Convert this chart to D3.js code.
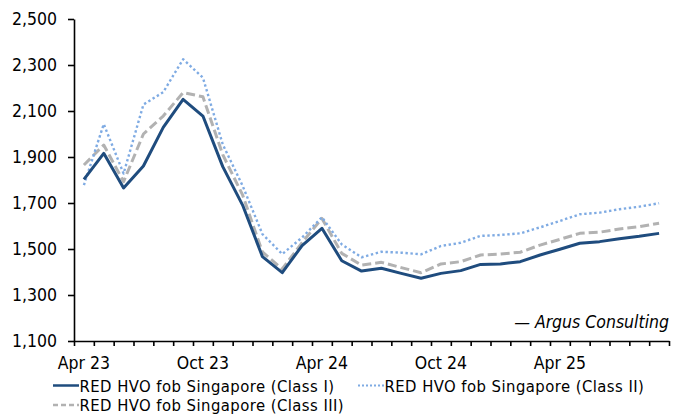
<!DOCTYPE html>
<html>
<head>
<meta charset="utf-8">
<script src="https://cdn.jsdelivr.net/npm/d3@7"></script>
<style>
  html, body { margin: 0; padding: 0; background: #fff; }
  svg { display: block; }
  text { font-family: "DejaVu Sans Condensed", "DejaVu Sans", sans-serif; fill: #000; }
</style>
</head>
<body>
<svg id="chart" width="684" height="415"></svg>
<script>
// Monthly categories, Apr 2023 – Sep 2025
const months = [
  "Apr 23","May 23","Jun 23","Jul 23","Aug 23","Sep 23","Oct 23","Nov 23","Dec 23",
  "Jan 24","Feb 24","Mar 24","Apr 24","May 24","Jun 24","Jul 24","Aug 24","Sep 24",
  "Oct 24","Nov 24","Dec 24","Jan 25","Feb 25","Mar 25","Apr 25","May 25","Jun 25",
  "Jul 25","Aug 25","Sep 25"
];

// RED HVO fob Singapore, $/t
const classI = [1803,1916,1765,1861,2029,2151,2078,1858,1691,1467,1397,1515,1590,1449,1404,
                1416,1394,1373,1394,1406,1433,1435,1445,1474,1499,1525,1532,1545,1555,1568];
const classII = [1778,2043,1828,2128,2182,2325,2245,1955,1775,1565,1478,1550,1638,1520,1464,
                 1488,1484,1477,1513,1527,1557,1561,1568,1594,1622,1651,1658,1673,1684,1699];
const classIII = [1865,1952,1793,2000,2078,2180,2162,1910,1735,1487,1413,1528,1633,1481,1430,
                  1442,1419,1397,1435,1445,1474,1478,1486,1517,1542,1568,1573,1587,1597,1612];

const xTickLabels = ["Apr 23","Oct 23","Apr 24","Oct 24","Apr 25"];
const yTicks = [1100,1300,1500,1700,1900,2100,2300,2500];

const seriesNames = [
  "RED HVO fob Singapore (Class I)",
  "RED HVO fob Singapore (Class II)",
  "RED HVO fob Singapore (Class III)"
];

const FONT = 17.5;
const LEGEND_FONT = 16.5;
const svg = d3.select("#chart");

const plotLeft = 74, plotRight = 669, plotTop = 19, plotBottom = 341;

const x = d3.scaleBand().domain(months).range([plotLeft, plotRight]).padding(0);
const xEdge = d3.scaleLinear().domain([0, months.length]).range([plotLeft, plotRight]);
const y = d3.scaleLinear().domain([1100, 2500]).range([plotBottom, plotTop]);

// Y axis
const yAxis = svg.append("g")
  .attr("transform", `translate(${plotLeft},0)`)
  .call(d3.axisLeft(y).tickValues(yTicks).tickFormat(d3.format(",")).tickSize(6).tickPadding(11).tickSizeOuter(0));
yAxis.selectAll("text").style("font-size", FONT + "px");

// X axis: tick marks between months
svg.append("g")
  .attr("transform", `translate(0,${plotBottom})`)
  .call(d3.axisBottom(xEdge).tickValues(d3.range(0, months.length + 1)).tickFormat("").tickSize(5).tickSizeOuter(0));

// X labels centred on months
const xLab = svg.append("g")
  .attr("transform", `translate(0,${plotBottom})`)
  .call(d3.axisBottom(x).tickValues(xTickLabels).tickSize(0).tickPadding(16));
xLab.select(".domain").remove();
xLab.selectAll("text").style("font-size", FONT + "px");

svg.selectAll(".domain, .tick line").attr("stroke", "#000").attr("stroke-width", 1.6);

// Series lines
const styles = [
  { data: classI,   color: "#1F4C7E", width: 3,   dash: null },
  { data: classII,  color: "#7FABE3", width: 2.4, dash: "2.4,2.6" },
  { data: classIII, color: "#B2B2B2", width: 3,   dash: "9,4" }
];

const line = d3.line()
  .x((d, i) => x(months[i]) + x.bandwidth() / 2)
  .y(d => y(d));

// draw light lines first so the solid line sits on top
[2, 1, 0].forEach(k => {
  const s = styles[k];
  svg.append("path")
    .datum(s.data)
    .attr("fill", "none")
    .attr("stroke", s.color)
    .attr("stroke-width", s.width)
    .attr("stroke-dasharray", s.dash)
    .attr("stroke-linejoin", "round")
    .attr("d", line);
});

// Source note
svg.append("text")
  .attr("x", plotRight)
  .attr("y", 328)
  .attr("text-anchor", "end")
  .style("font-size", FONT + "px")
  .style("font-style", "italic")
  .text("\u2014 Argus Consulting");

// Legend
const legendItems = [
  { k: 0, x: 53,  y: 385.5 },
  { k: 1, x: 358, y: 385.5 },
  { k: 2, x: 53,  y: 405 }
];
const lg = svg.append("g");
legendItems.forEach(it => {
  const s = styles[it.k];
  lg.append("line")
    .attr("x1", it.x).attr("x2", it.x + 26)
    .attr("y1", it.y).attr("y2", it.y)
    .attr("stroke", s.color)
    .attr("stroke-width", it.k === 1 ? 2 : 2.5)
    .attr("stroke-dasharray", it.k === 2 ? "5,3" : (it.k === 1 ? "2,2" : null));
  lg.append("text")
    .attr("x", it.x + 26.5)
    .attr("y", it.y + 6)
    .style("font-size", LEGEND_FONT + "px")
    .style("letter-spacing", "0.45px")
    .text(seriesNames[it.k]);
});
</script>
</body>
</html>
